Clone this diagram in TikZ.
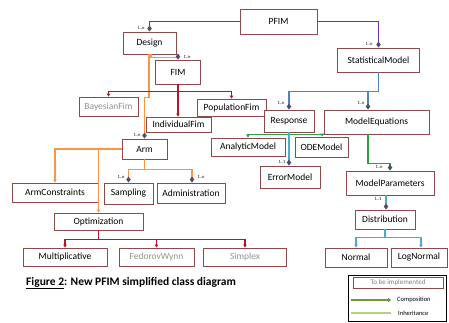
\documentclass[tikz,border=0pt]{standalone}
\usepackage{fontspec}
\setmainfont{Carlito}
\usetikzlibrary{arrows.meta}
\definecolor{boxc}{HTML}{8C4B4B}
\definecolor{purp}{HTML}{7030A0}
\definecolor{orng}{HTML}{F79646}
\definecolor{dred}{HTML}{B0182A}
\definecolor{blu}{HTML}{4F81BD}
\definecolor{grn}{HTML}{2EA043}
\definecolor{cyn}{HTML}{4BACC6}
\definecolor{diac}{HTML}{4F4F6B}
\definecolor{olive}{HTML}{77933C}
\definecolor{lgrn}{HTML}{B5CF8A}
\tikzset{
  cls/.style={draw=boxc, line width=0.9pt, fill=white, inner sep=0pt, font=\fontsize{9.5}{10}\selectfont, text=black},
  sz/.style 2 args={minimum width=#1, minimum height=#2},
  todo/.style={text=gray!85},
  conn/.style={line width=1.2pt},
  comp/.style={conn, -{Diamond[length=6pt,width=4.5pt,color=diac,fill=diac]}},
  inh/.style={conn, -{Triangle[length=3pt,width=3.5pt]}},
  mult/.style={font=\fontsize{4.5}{4.5}\selectfont, text=black, inner sep=0pt}
}
\begin{document}
\begin{tikzpicture}[x=1pt,y=-1pt]
\useasboundingbox (0,0) rectangle (449,323);
\fill[white] (0,0) rectangle (449,323);

% nodes
\node[cls, sz={77}{25}] (pfim) at (278.5,21.5) {PFIM};
\node[cls, sz={53}{22}] (design) at (149.5,43) {Design};
\node[cls, sz={45}{24}] (fim) at (178,72) {FIM};
\node[cls, sz={82}{24}] (statm) at (378.5,60) {StatisticalModel};
\node[cls, sz={59}{19}, todo] (bayes) at (108.5,106.5) {BayesianFim};
\node[cls, sz={69}{17}] (popfim) at (231.5,107.5) {PopulationFim};
\node[cls, sz={65}{15}] (indfim) at (178.5,124.5) {IndividualFim};
\node[cls, sz={50}{22}] (response) at (289,121) {Response};
\node[cls, sz={105}{24}] (modeleq) at (376.5,122) {ModelEquations};
\node[cls, sz={45}{20}] (arm) at (144.5,149) {Arm};
\node[cls, sz={74}{18}] (analytic) at (248,147) {AnalyticModel};
\node[cls, sz={53}{20}] (ode) at (321.5,147) {ODEModel};
\node[cls, sz={60}{22}] (errm) at (290,177) {ErrorModel};
\node[cls, sz={88}{24}] (mparam) at (390,183) {ModelParameters};
\node[cls, sz={86}{19}] (armc) at (55,192.5) {ArmConstraints};
\node[cls, sz={49}{21}] (sampling) at (128.5,193.5) {Sampling};
\node[cls, sz={68}{20}] (admin) at (191,193) {Administration};
\node[cls, sz={89}{17}] (optim) at (98.5,221.5) {Optimization};
\node[cls, sz={84}{18}] (multi) at (65,257) {Multiplicative};
\node[cls, sz={75}{18}, todo] (fedorov) at (156.5,257) {FedorovWynn};
\node[cls, sz={83}{18}, todo] (simplex) at (245,257) {Simplex};
\node[cls, sz={60}{19}] (distr) at (385,219.5) {Distribution};
\node[cls, sz={62}{19}] (normal) at (356,257.5) {Normal};
\node[cls, sz={56}{19}] (lognormal) at (419,257.5) {LogNormal};

% PFIM compositions
\draw[purp, comp] (pfim.west) -| (design.north);
\draw[purp, comp] (pfim.east) -| (statm.north);

% Design
\draw[orng, comp] ([xshift=1.5pt]design.south) -- ++(0,3) -| (fim.north);
\draw[orng, comp] ([xshift=-0.5pt]design.south) -- ++(0,43) -| (arm.north);

% FIM inheritance
\draw[dred, conn] (fim.south) -- ++(0,7) coordinate (fimj);
\draw[dred, inh] (fimj) -| (bayes.north);
\draw[dred, inh] (fimj) -| (popfim.north);
\draw[dred, inh] (fim.south) -- (fim.south |- indfim.north);

% StatisticalModel
\draw[blu, conn] (statm.south) -- ++(0,19) coordinate (smj);
\draw[blu, comp] (smj) -| (response.north);
\coordinate (mqn) at ([xshift=-8.5pt]modeleq.north);
\draw[blu, comp] (smj -| mqn) -- (mqn);

% ModelEquations inheritance
\draw[grn, inh] (modeleq.south west) -| (analytic.north);
\draw[grn, inh] ([xshift=-1.5pt]modeleq.south west) -- ([xshift=-1.5pt]modeleq.south west |- ode.north);

% Response -> ErrorModel
\draw[cyn, comp] (response.south) -- (response.south |- errm.north);

% ModelEquations -> ModelParameters
\draw[grn, comp] ([xshift=-8.5pt]modeleq.south) -- ++(0,29) -| (mparam.north);

% ModelParameters -> Distribution
\draw[cyn, comp] ([xshift=1pt]distr.north |- mparam.south) -- ([xshift=1pt]distr.north);

% Distribution inheritance
\draw[cyn, conn] (distr.south) -- ++(0,8) coordinate (dj);
\draw[cyn, inh] (dj) -| (normal.north);
\draw[cyn, inh] (dj) -| ([xshift=2pt]lognormal.north);

% Arm
\draw[orng, inh] (arm.west) -| (armc.north);
\draw[orng, inh] (arm.west -| optim.north) -- (optim.north);
\draw[orng, conn] (arm.south) -- ++(0,10) coordinate (aj);
\draw[orng, comp] (aj) -| (sampling.north);
\draw[orng, comp] (aj) -| ([xshift=1pt]admin.north);

% Optimization inheritance
\draw[dred, conn] (optim.south) -- ++(0,9) coordinate (oj);
\draw[dred, inh] (oj) -| (multi.north);
\draw[dred, inh] (oj) -| (fedorov.north);
\draw[dred, inh] (oj) -| (simplex.north);

% multiplicities
\node[mult] (m1) at (141,28) {1..n};
\node[mult] (m2) at (187,57) {1..n};
\node[mult] (m3) at (369,44) {1..n};
\node[mult] (m4) at (281,103) {1..n};
\node[mult] (m5) at (361,103) {1..n};
\node[mult] (m6) at (137,135) {1..n};
\node[mult] (m7) at (121,177) {1..n};
\node[mult] (m8) at (201,177) {1..n};
\node[mult] (m9) at (282,162) {1..1};
\node[mult] (m10) at (379,167) {1..n};
\node[mult] (m11) at (378,199) {1..1};

% caption
\node[anchor=west, inner sep=0pt, font=\fontsize{11.5}{12}\selectfont\bfseries] (cap) at (26,283) {\underline{Figure 2}: New PFIM simplified class diagram};

% legend
\draw[black, line width=0.5pt] (348,275) rectangle (446,321);
\node[draw=boxc, line width=0.8pt, minimum width=90, minimum height=11, inner sep=0pt, font=\fontsize{7}{7}\selectfont, text=gray] (todoleg) at (398,282.5) {To be implemented};
\coordinate (c1) at (351,300);
\coordinate (c2) at (391,300);
\draw[olive, line width=1.1pt, -{Diamond[length=5pt,width=4pt,fill=olive]}] (c1) -- (c2);
\node[anchor=west, inner sep=0pt, font=\fontsize{6.5}{6.5}\selectfont] (lc) at (397,300) {Composition};
\coordinate (c3) at (351,313);
\coordinate (c4) at (391,313);
\draw[lgrn, line width=1.1pt] (c3) -- (c4);
\node[anchor=west, inner sep=0pt, font=\fontsize{6.5}{6.5}\selectfont] (li) at (398,313) {Inheritance};
\end{tikzpicture}
\end{document}
